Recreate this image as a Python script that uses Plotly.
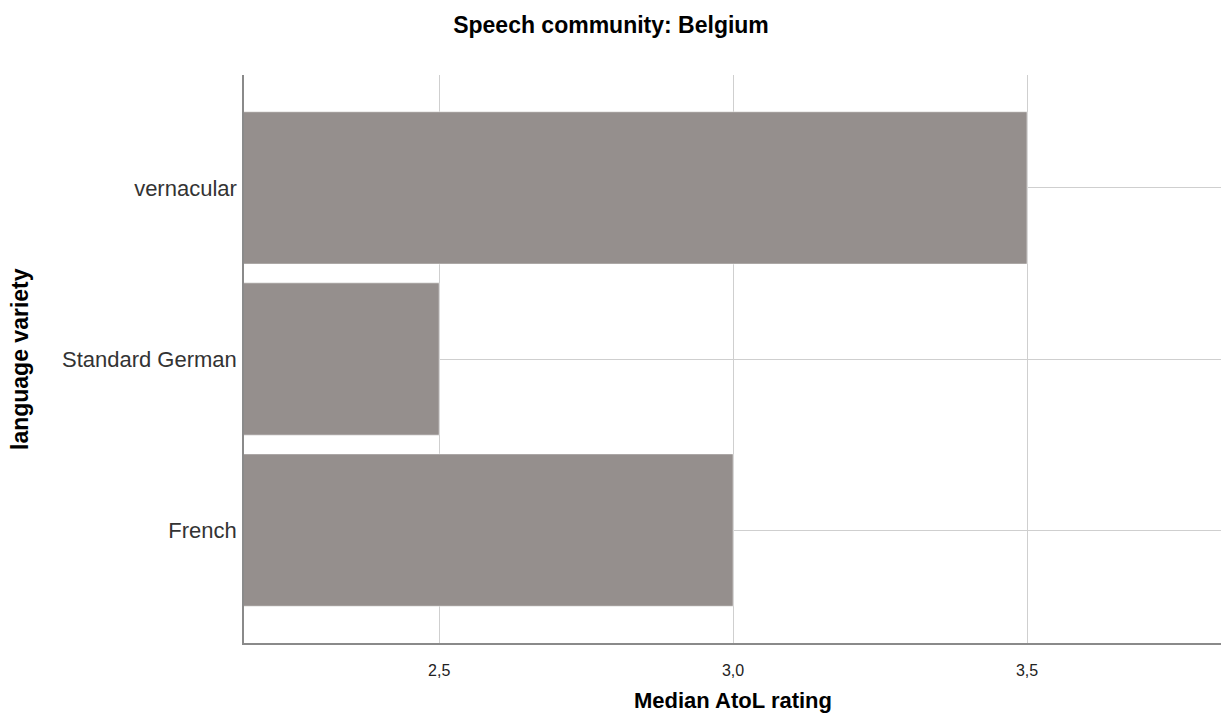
import plotly.graph_objects as go

categories = ["French", "Standard German", "vernacular"]
medians = [3.0, 2.5, 3.5]
x_ticks = [2.5, 3.0, 3.5]

fig = go.Figure(go.Bar(
    x=medians, y=categories, orientation="h",
    marker=dict(color="#958F8D", line=dict(color="#FFFFFF", width=0.5)),
    width=0.89,
))

font = "Liberation Sans, Arial, sans-serif"
plot_h = 715 - 75 - 72
plot_w = 1222 - 244 - 1
fig.update_layout(
    width=1222, height=715,
    margin=dict(l=244, r=1, t=75, b=72, autoexpand=False),
    paper_bgcolor="white", plot_bgcolor="white",
    separators=", ",
    showlegend=False,
    title=dict(text="<b>Speech community: Belgium</b>", x=0.5, xanchor="center",
               y=1 - 25 / 715, yanchor="middle",
               font=dict(family=font, size=23, color="#000")),
    xaxis=dict(
        range=[2.168, 3.83], tickvals=x_ticks, tickformat=".1f",
        showgrid=True, gridcolor="#CFCFCF", gridwidth=1,
        showline=True, linecolor="#8A8A8A", linewidth=1.5,
        zeroline=False, ticks="outside", ticklen=12, tickcolor="rgba(0,0,0,0)",
        tickfont=dict(family=font, size=16, color="#222"),
        automargin=False,
    ),
    yaxis=dict(
        type="category", categoryorder="array", categoryarray=categories,
        range=[-0.66, 2.66],
        showgrid=True, gridcolor="#CFCFCF", gridwidth=1,
        showline=True, linecolor="#8A8A8A", linewidth=1.5,
        zeroline=False, ticks="", ticklabelstandoff=1,
        tickfont=dict(family=font, size=22, color="#333"),
        automargin=False,
    ),
    annotations=[
        dict(text="<b>language variety</b>", textangle=-90,
             xref="paper", yref="paper", x=-(244 - 20) / plot_w, y=0.5,
             xanchor="center", yanchor="middle", showarrow=False,
             font=dict(family=font, size=23, color="#000")),
        dict(text="<b>Median AtoL rating</b>",
             xref="paper", yref="paper", x=0.5, y=-(700 - 643) / plot_h,
             xanchor="center", yanchor="middle", showarrow=False,
             font=dict(family=font, size=22, color="#000")),
    ],
)

fig.write_html("out.html", config={"displayModeBar": False},
               post_script="document.body.style.margin='0';document.body.style.overflow='hidden';")
